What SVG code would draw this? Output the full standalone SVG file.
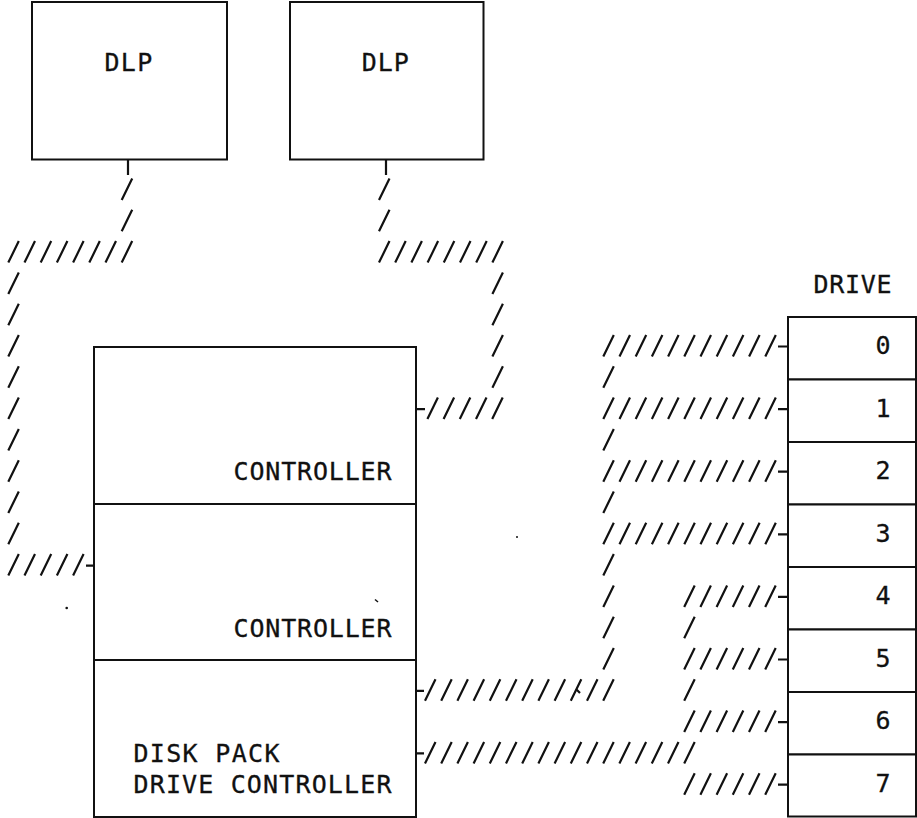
<svg xmlns="http://www.w3.org/2000/svg" width="917" height="818" viewBox="0 0 917 818">
<style>
.box{fill:#fff;stroke:#111;stroke-width:2}
.w{fill:none;stroke:#111;stroke-width:2.2}
.t{font-family:"DejaVu Sans Mono","Liberation Mono",monospace;font-size:25px;fill:#111;stroke:#111;stroke-width:0.3}
.n{font-family:"DejaVu Sans Mono","Liberation Mono",monospace;font-size:25px;fill:#111;stroke:#111;stroke-width:0.3;text-anchor:middle}
</style>
<rect width="917" height="818" fill="#fff"/>
<g id="dlp1"><rect class="box" x="32" y="2" width="195" height="157.5"/><text class="t" x="104.5" y="71" textLength="47.7" lengthAdjust="spacing">DLP</text></g>
<g id="dlp2"><rect class="box" x="290" y="2" width="193.5" height="157.5"/><text class="t" x="361.8" y="71" textLength="47" lengthAdjust="spacing">DLP</text></g>
<g id="controller1"><rect class="box" x="94" y="347" width="322" height="157"/><text class="t" x="233.5" y="480" textLength="158" lengthAdjust="spacing">CONTROLLER</text></g>
<g id="controller2"><rect class="box" x="94" y="504" width="322" height="156"/><text class="t" x="233.5" y="636.7" textLength="158" lengthAdjust="spacing">CONTROLLER</text></g>
<g id="diskpack"><rect class="box" x="94" y="660" width="322" height="157"/><text class="t" x="133.5" y="762" textLength="146" lengthAdjust="spacing">DISK PACK</text><text class="t" x="133.5" y="793" textLength="258" lengthAdjust="spacing">DRIVE CONTROLLER</text></g>
<text id="drive-label" class="t" x="813.5" y="293" textLength="78" lengthAdjust="spacing">DRIVE</text>
<g id="drive0"><rect class="box" x="788" y="317" width="128" height="62.5"/><text class="n" x="883" y="354">0</text></g>
<g id="drive1"><rect class="box" x="788" y="379.5" width="128" height="62.5"/><text class="n" x="883" y="416.5">1</text></g>
<g id="drive2"><rect class="box" x="788" y="442" width="128" height="62.5"/><text class="n" x="883" y="479">2</text></g>
<g id="drive3"><rect class="box" x="788" y="504.5" width="128" height="62.5"/><text class="n" x="883" y="541.5">3</text></g>
<g id="drive4"><rect class="box" x="788" y="567" width="128" height="62.5"/><text class="n" x="883" y="604">4</text></g>
<g id="drive5"><rect class="box" x="788" y="629.5" width="128" height="62.5"/><text class="n" x="883" y="666.5">5</text></g>
<g id="drive6"><rect class="box" x="788" y="692" width="128" height="62.5"/><text class="n" x="883" y="729">6</text></g>
<g id="drive7"><rect class="box" x="788" y="754.5" width="128" height="62" /><text class="n" x="883" y="791.5">7</text></g>
<g id="connectors">
<path id="c-dlp1" class="w" d="M128 159.5 V175
M121.7 200 l10.5 -21.5 m-10.5 52.8 l10.5 -21.5
M8.3 262.6 l10.5 -21.5 m5.7 21.5 l10.5 -21.5 m5.7 21.5 l10.5 -21.5 m5.7 21.5 l10.5 -21.5 m5.7 21.5 l10.5 -21.5 m5.7 21.5 l10.5 -21.5 m5.7 21.5 l10.5 -21.5 m5.7 21.5 l10.5 -21.5
M8.3 293.9 l10.5 -21.5 m-10.5 52.8 l10.5 -21.5 m-10.5 52.8 l10.5 -21.5 m-10.5 52.8 l10.5 -21.5 m-10.5 52.8 l10.5 -21.5 m-10.5 52.8 l10.5 -21.5 m-10.5 52.8 l10.5 -21.5 m-10.5 52.8 l10.5 -21.5 m-10.5 52.8 l10.5 -21.5
M8.3 575.6 l10.5 -21.5 m5.7 21.5 l10.5 -21.5 m5.7 21.5 l10.5 -21.5 m5.7 21.5 l10.5 -21.5 m5.7 21.5 l10.5 -21.5
M86 565.6 H94"/>
<path id="c-dlp2" class="w" d="M386 159.5 V175
M379 200 l10.5 -21.5 m-10.5 52.8 l10.5 -21.5
M379 262.6 l10.5 -21.5 m5.7 21.5 l10.5 -21.5 m5.7 21.5 l10.5 -21.5 m5.7 21.5 l10.5 -21.5 m5.7 21.5 l10.5 -21.5 m5.7 21.5 l10.5 -21.5 m5.7 21.5 l10.5 -21.5 m5.7 21.5 l10.5 -21.5
M492.4 293.9 l10.5 -21.5 m-10.5 52.8 l10.5 -21.5 m-10.5 52.8 l10.5 -21.5 m-10.5 52.8 l10.5 -21.5
M427.4 419.1 l10.5 -21.5 m5.7 21.5 l10.5 -21.5 m5.7 21.5 l10.5 -21.5 m5.7 21.5 l10.5 -21.5 m5.7 21.5 l10.5 -21.5
M416 409.1 H425"/>
<path id="c-upper" class="w" d="M416 690.8 H424
M425 700.8 l10.5 -21.5 m5.7 21.5 l10.5 -21.5 m5.7 21.5 l10.5 -21.5 m5.7 21.5 l10.5 -21.5 m5.7 21.5 l10.5 -21.5 m5.7 21.5 l10.5 -21.5 m5.7 21.5 l10.5 -21.5 m5.7 21.5 l10.5 -21.5 m5.7 21.5 l10.5 -21.5 m5.7 21.5 l10.5 -21.5 m5.7 21.5 l10.5 -21.5 m5.7 21.5 l10.5 -21.5
M603.3 575.6 l10.5 -21.5 m-10.5 52.8 l10.5 -21.5 m-10.5 52.8 l10.5 -21.5 m-10.5 52.8 l10.5 -21.5
M603.3 387.8 l10.5 -21.5 m-10.5 84.1 l10.5 -21.5 m-10.5 84.1 l10.5 -21.5
M603.3 356.5 l10.5 -21.5 m5.7 21.5 l10.5 -21.5 m5.7 21.5 l10.5 -21.5 m5.7 21.5 l10.5 -21.5 m5.7 21.5 l10.5 -21.5 m5.7 21.5 l10.5 -21.5 m5.7 21.5 l10.5 -21.5 m5.7 21.5 l10.5 -21.5 m5.7 21.5 l10.5 -21.5 m5.7 21.5 l10.5 -21.5 m5.7 21.5 l10.5 -21.5
M603.3 419.1 l10.5 -21.5 m5.7 21.5 l10.5 -21.5 m5.7 21.5 l10.5 -21.5 m5.7 21.5 l10.5 -21.5 m5.7 21.5 l10.5 -21.5 m5.7 21.5 l10.5 -21.5 m5.7 21.5 l10.5 -21.5 m5.7 21.5 l10.5 -21.5 m5.7 21.5 l10.5 -21.5 m5.7 21.5 l10.5 -21.5 m5.7 21.5 l10.5 -21.5
M603.3 481.7 l10.5 -21.5 m5.7 21.5 l10.5 -21.5 m5.7 21.5 l10.5 -21.5 m5.7 21.5 l10.5 -21.5 m5.7 21.5 l10.5 -21.5 m5.7 21.5 l10.5 -21.5 m5.7 21.5 l10.5 -21.5 m5.7 21.5 l10.5 -21.5 m5.7 21.5 l10.5 -21.5 m5.7 21.5 l10.5 -21.5 m5.7 21.5 l10.5 -21.5
M603.3 544.3 l10.5 -21.5 m5.7 21.5 l10.5 -21.5 m5.7 21.5 l10.5 -21.5 m5.7 21.5 l10.5 -21.5 m5.7 21.5 l10.5 -21.5 m5.7 21.5 l10.5 -21.5 m5.7 21.5 l10.5 -21.5 m5.7 21.5 l10.5 -21.5 m5.7 21.5 l10.5 -21.5 m5.7 21.5 l10.5 -21.5 m5.7 21.5 l10.5 -21.5
M778 346.5 H788 M778 409.1 H788 M778 471.7 H788 M778 534.3 H788
M576 689 L580 693"/>
<path id="c-lower" class="w" d="M416 753.4 H424
M425 763.4 l10.5 -21.5 m5.7 21.5 l10.5 -21.5 m5.7 21.5 l10.5 -21.5 m5.7 21.5 l10.5 -21.5 m5.7 21.5 l10.5 -21.5 m5.7 21.5 l10.5 -21.5 m5.7 21.5 l10.5 -21.5 m5.7 21.5 l10.5 -21.5 m5.7 21.5 l10.5 -21.5 m5.7 21.5 l10.5 -21.5 m5.7 21.5 l10.5 -21.5 m5.7 21.5 l10.5 -21.5 m5.7 21.5 l10.5 -21.5 m5.7 21.5 l10.5 -21.5 m5.7 21.5 l10.5 -21.5 m5.7 21.5 l10.5 -21.5 m5.7 21.5 l10.5 -21.5
M684.2 638.2 l10.5 -21.5 m-10.5 84.1 l10.5 -21.5
M684.2 606.9 l10.5 -21.5 m5.7 21.5 l10.5 -21.5 m5.7 21.5 l10.5 -21.5 m5.7 21.5 l10.5 -21.5 m5.7 21.5 l10.5 -21.5 m5.7 21.5 l10.5 -21.5
M684.2 669.5 l10.5 -21.5 m5.7 21.5 l10.5 -21.5 m5.7 21.5 l10.5 -21.5 m5.7 21.5 l10.5 -21.5 m5.7 21.5 l10.5 -21.5 m5.7 21.5 l10.5 -21.5
M684.2 732.1 l10.5 -21.5 m5.7 21.5 l10.5 -21.5 m5.7 21.5 l10.5 -21.5 m5.7 21.5 l10.5 -21.5 m5.7 21.5 l10.5 -21.5 m5.7 21.5 l10.5 -21.5
M684.2 794.7 l10.5 -21.5 m5.7 21.5 l10.5 -21.5 m5.7 21.5 l10.5 -21.5 m5.7 21.5 l10.5 -21.5 m5.7 21.5 l10.5 -21.5 m5.7 21.5 l10.5 -21.5
M778 596.9 H788 M778 659.5 H788 M778 722.1 H788 M778 784.7 H788"/>
</g>
<g id="specks" fill="#111"><circle cx="66.7" cy="608" r="1.3"/><circle cx="517" cy="537" r="1"/><path d="M375 599.5 L378 602" stroke="#111" stroke-width="1.5"/></g>
</svg>
